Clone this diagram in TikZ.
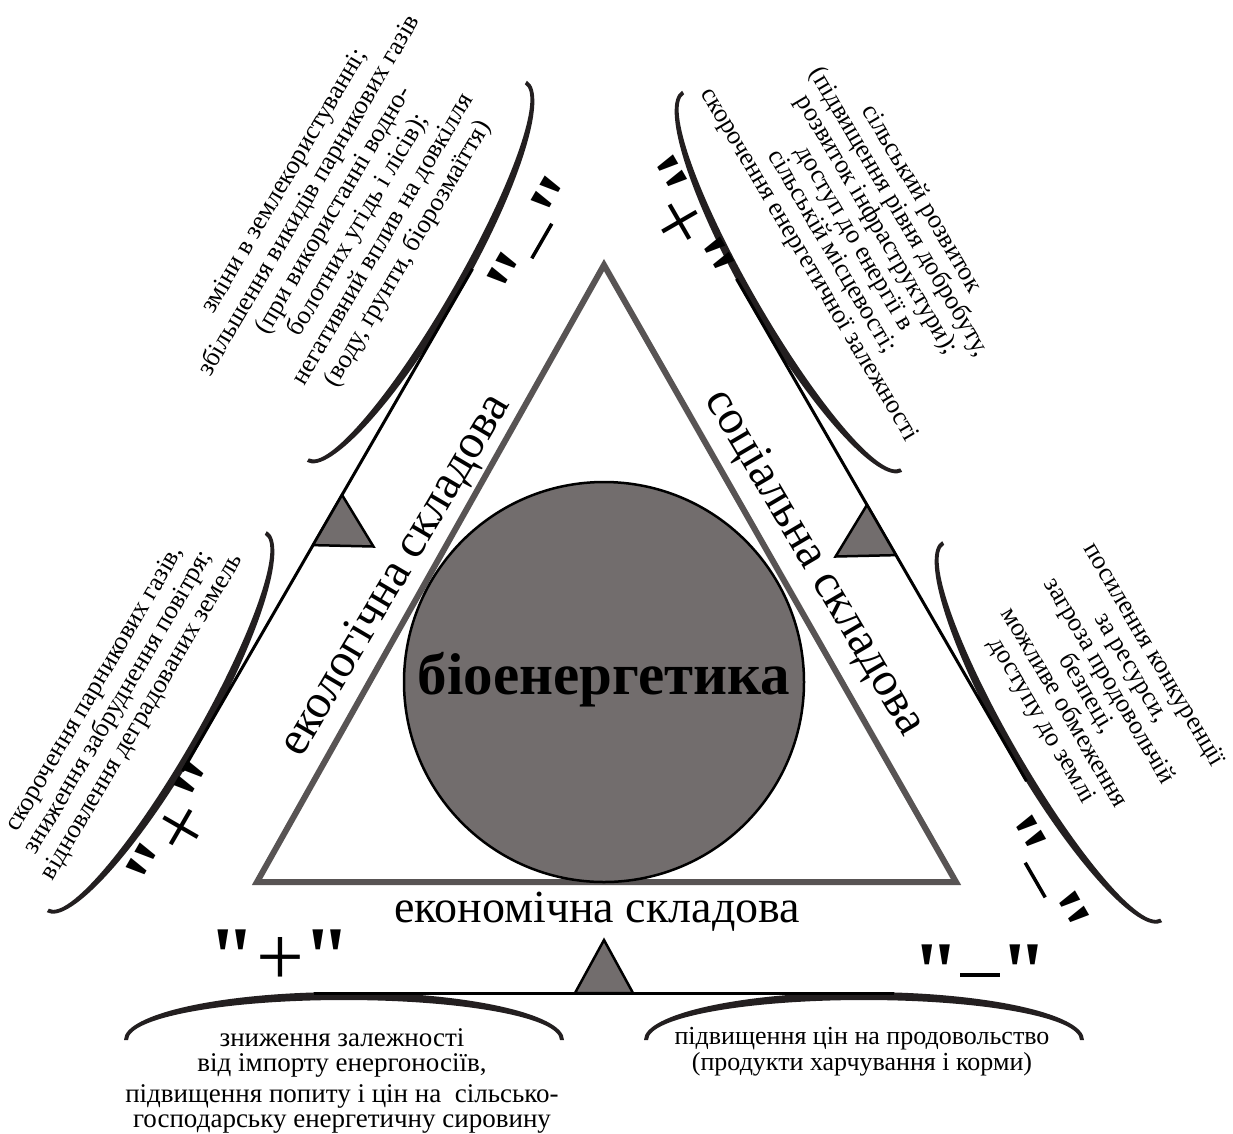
\documentclass[tikz,border=0pt]{standalone}
\usepackage{fontspec}
\setmainfont{Liberation Serif}
\newfontfamily\signfont[Ligatures=TeXOff]{Liberation Serif}
\definecolor{tri}{RGB}{88,84,84}
\definecolor{fillg}{RGB}{114,109,109}
\definecolor{brc}{RGB}{35,31,32}
\newcommand\mybrace[2]{\fill[brc,shift={(#1,#2)}] (-220,0) .. controls (-220,-26.2) and (-121.5,-48) .. (0,-48) .. controls (121.5,-48) and (220,-26.2) .. (220,0) -- (216,0) .. controls (216,-22.4) and (119.3,-40) .. (0,-40) .. controls (-119.3,-40) and (-216,-22.4) .. (-216,0) -- cycle;}
\newcommand\mybalance{%
  \mybrace{-260}{357}\mybrace{260}{357}%
  \draw[line width=3] (-290,310) -- (290,310);%
  \filldraw[fill=fillg, draw=black, line width=2.5, line join=miter] (-29,310) -- (29,310) -- (0,257) -- cycle;}
\newcommand\qq{{\bfseries\symbol{34}}}
\newcommand\plabel{\signfont\qq+\qq}
\newcommand\mlabel{\signfont\qq\rule[24pt]{40pt}{3.5pt}\qq}
\begin{document}
\begin{tikzpicture}[x=1pt,y=-1pt,
  small/.style={font=\fontsize{26}{27.5}\selectfont, inner sep=0pt, align=center},
  side/.style={font=\fontsize{48}{50}\selectfont, inner sep=0pt},
  sign/.style={font=\fontsize{85}{90}\selectfont, inner sep=0pt}]
\useasboundingbox (0,0) rectangle (1233,1133);
\fill[white] (0,0) rectangle (1233,1133);
% balances
\begin{scope}[shift={(604,683)}] \mybalance \end{scope}
\begin{scope}[shift={(596,675)},rotate=-120] \mybalance \end{scope}
\begin{scope}[shift={(613,685)},rotate=120] \mybalance \end{scope}
% inner triangle and circle
\draw[tri, line width=6, line join=miter] (604,265) -- (956,882) -- (257,882) -- cycle;
\filldraw[fill=fillg, draw=black, line width=2.5] (604,682) circle[radius=200pt];
\node[font=\fontsize{59}{60}\selectfont\bfseries, anchor=base, inner sep=0pt] (bio) at (604,694) {біоенергетика};
\node[side, rotate=59.5] (eco) at (396,576) {екологічна складова};
\node[side, rotate=-59.5] (soc) at (814,563) {соціальна складова};
\node[side, font=\fontsize{46}{48}\selectfont, anchor=base] (econ) at (597,922) {економічна складова};
% text blocks
\node[small, rotate=59.5, font=\fontsize{26}{28.6}\selectfont] (tl) at (347,218) {зміни в землекористуванні;\\збільшення викидів парникових газів\\(при використанні водно-\\болотних угідь і лісів);\\негативний вплив на довкілля\\(воду, ґрунти, біорозмаїття)};
\node[small, rotate=-59.5, font=\fontsize{26}{26}\selectfont] (tr) at (865,232) {сільський розвиток\\(підвищення рівня добробуту,\\розвиток інфраструктури);\\доступ до енергії в\\сільській місцевості;\\скорочення енергетичної залежності};
\node[small, rotate=59.5] (bl) at (119,703) {скорочення парникових газів,\\зниження забруднення повітря;\\відновлення деградованих земель};
\node[small, rotate=-59.5, font=\fontsize{26}{26}\selectfont] (br) at (1097,688) {посилення конкуренції\\за ресурси,\\загроза продовольчій\\безпеці,\\можливе обмеження\\доступу до землі};
\node[small, anchor=north, font=\fontsize{27}{25}\selectfont] (bot1) at (342,1028) {зниження залежності\\від імпорту енергоносіїв,\\[6pt]підвищення попиту і цін на \ сільсько-\\господарську енергетичну сировину};
\node[small, anchor=north, font=\fontsize{26}{26}\selectfont] (bot2) at (862,1027) {підвищення цін на продовольство\\(продукти харчування і корми)};
% signs
\node[sign] (s1) at (280,958) {\plabel};
\node[sign] (s2) at (980,973) {\mlabel};
\node[sign, rotate=60] (s3) at (540,240) {\mlabel};
\node[sign, rotate=-60] (s4) at (680,222) {\plabel};
\node[sign, rotate=60] (s5) at (181,828) {\plabel};
\node[sign, rotate=-60] (s6) at (1037,879) {\mlabel};
\end{tikzpicture}
\end{document}
